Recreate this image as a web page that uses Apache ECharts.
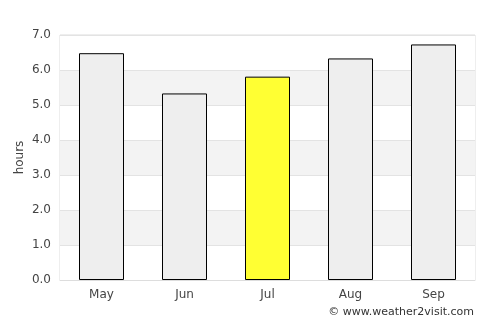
<!DOCTYPE html>
<html>
<head>
<meta charset="utf-8">
<script src="https://cdn.jsdelivr.net/npm/echarts@6/dist/echarts.min.js"></script>
<style>
  html, body { margin: 0; padding: 0; background: #fff; }
</style>
</head>
<body>
<div id="myChart" style="width:500px;height:325px;"></div>
<script>
// data
var months = ["May", "Jun", "Jul", "Aug", "Sep"];
var hours = [6.48, 5.33, 5.81, 6.33, 6.73];
var highlight = "Jul";

var chart = echarts.init(document.getElementById("myChart"));
chart.setOption({
    animation: false,
    textStyle: { fontFamily: "DejaVu Sans" },
    grid: {
        left: 60, right: 25, top: 35, bottom: 45,
        show: true, borderColor: "#dddddd", borderWidth: 1
    },
    graphic: [{
        type: "text",
        right: 26, top: 307,
        style: { text: "© www.weather2visit.com", fontSize: 11, fill: "#333", fontFamily: "DejaVu Sans" }
    }],
    xAxis: {
        type: "category",
        data: months,
        axisLine: { lineStyle: { color: "#dddddd" } },
        axisTick: { show: false },
        axisLabel: { color: "#444", fontSize: 12, margin: 9 }
    },
    yAxis: {
        type: "value",
        min: 0, max: 7, interval: 1,
        name: "hours",
        nameLocation: "middle",
        nameGap: 34,
        nameMoveOverlap: false,
        nameTextStyle: { color: "#444", fontSize: 12 },
        axisLabel: {
            color: "#444", fontSize: 12, margin: 9,
            formatter: function (v) { return v.toFixed(1); }
        },
        splitLine: { lineStyle: { color: "#e3e3e3" } },
        splitArea: { show: true, areaStyle: { color: ["#ffffff", "#f3f3f3"] } }
    },
    series: [{
        type: "bar",
        barWidth: 45,
        data: hours.map(function (v, i) {
            return {
                value: v,
                itemStyle: { color: months[i] === highlight ? "#ffff33" : "#eeeeee" }
            };
        }),
        itemStyle: { borderColor: "#000", borderWidth: 1 }
    }]
});
</script>
</body>
</html>
